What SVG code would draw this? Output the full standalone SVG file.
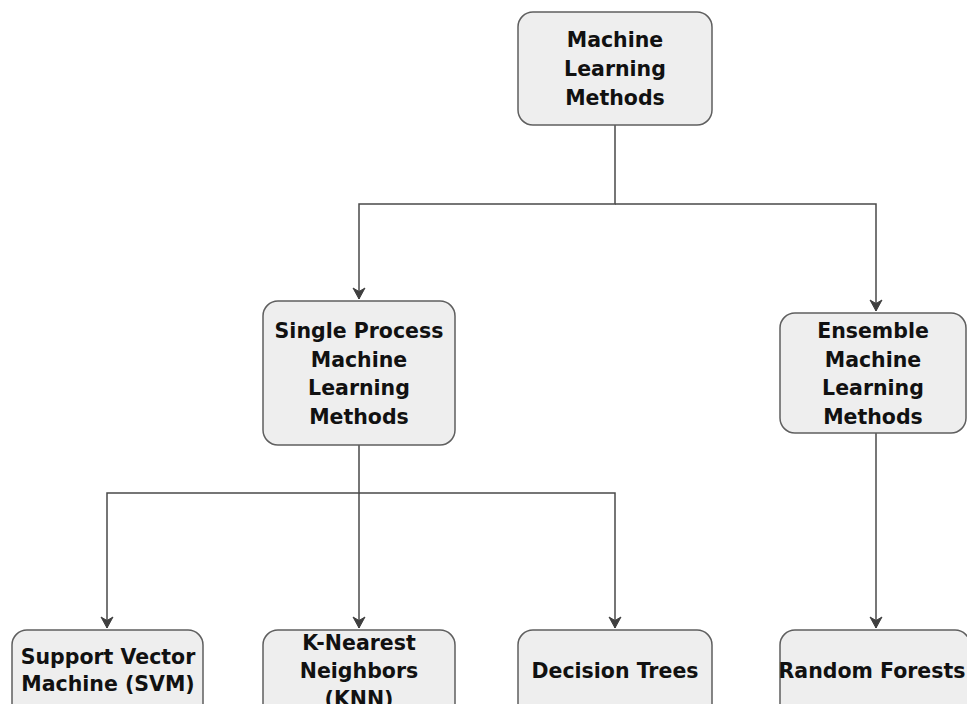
<svg xmlns="http://www.w3.org/2000/svg" width="967" height="704" viewBox="0 0 967 704">
  <style>
    .box { fill: #eeeeee; stroke: #5f5f5f; stroke-width: 1.5; }
    .lbl { font-family: "DejaVu Sans", "Liberation Sans", sans-serif; font-weight: bold; font-size: 20.5px; fill: #111111; text-anchor: middle; }
    .edge { fill: none; stroke: #4a4a4a; stroke-width: 1.5; }
  </style>
  <defs>
    <marker id="arrow" markerWidth="16" markerHeight="16" refX="12" refY="8" orient="auto" markerUnits="userSpaceOnUse">
      <path d="M1,2 L12,8 L1,14 L4.5,8 Z" fill="#3f3f3f" stroke="#3f3f3f" stroke-width="1"/>
    </marker>
  </defs>
  <rect width="967" height="704" fill="#ffffff"/>

  <g id="connectors">
    <path class="edge" d="M615,125 V204 H359 V299" marker-end="url(#arrow)"/>
    <path class="edge" d="M615,204 H876 V311" marker-end="url(#arrow)"/>
    <path class="edge" d="M359,445 V493 H107 V628" marker-end="url(#arrow)"/>
    <path class="edge" d="M359,493 V628" marker-end="url(#arrow)"/>
    <path class="edge" d="M359,493 H615 V628" marker-end="url(#arrow)"/>
    <path class="edge" d="M876,433 V628" marker-end="url(#arrow)"/>
  </g>

  <g id="ml-methods">
    <rect class="box" x="518" y="12" width="194" height="113" rx="15"/>
    <text class="lbl" x="615" y="47">Machine</text>
    <text class="lbl" x="615" y="76">Learning</text>
    <text class="lbl" x="615" y="105">Methods</text>
  </g>

  <g id="single-process">
    <rect class="box" x="263" y="301" width="192" height="144" rx="15"/>
    <text class="lbl" x="359" y="338">Single Process</text>
    <text class="lbl" x="359" y="366.5">Machine</text>
    <text class="lbl" x="359" y="395">Learning</text>
    <text class="lbl" x="359" y="423.5">Methods</text>
  </g>

  <g id="ensemble">
    <rect class="box" x="780" y="313" width="186" height="120" rx="15"/>
    <text class="lbl" x="873" y="338">Ensemble</text>
    <text class="lbl" x="873" y="366.5">Machine</text>
    <text class="lbl" x="873" y="395">Learning</text>
    <text class="lbl" x="873" y="423.5">Methods</text>
  </g>

  <g id="svm">
    <rect class="box" x="12" y="630" width="191" height="110" rx="15"/>
    <text class="lbl" x="108" y="664">Support Vector</text>
    <text class="lbl" x="108" y="691">Machine (SVM)</text>
  </g>

  <g id="knn">
    <rect class="box" x="263" y="630" width="192" height="110" rx="15"/>
    <text class="lbl" x="359" y="650">K-Nearest</text>
    <text class="lbl" x="359" y="678">Neighbors</text>
    <text class="lbl" x="359" y="706">(KNN)</text>
  </g>

  <g id="decision-trees">
    <rect class="box" x="518" y="630" width="194" height="110" rx="15"/>
    <text class="lbl" x="615" y="678">Decision Trees</text>
  </g>

  <g id="random-forests">
    <rect class="box" x="780" y="630" width="190" height="110" rx="15"/>
    <text class="lbl" x="872" y="678">Random Forests</text>
  </g>
</svg>
